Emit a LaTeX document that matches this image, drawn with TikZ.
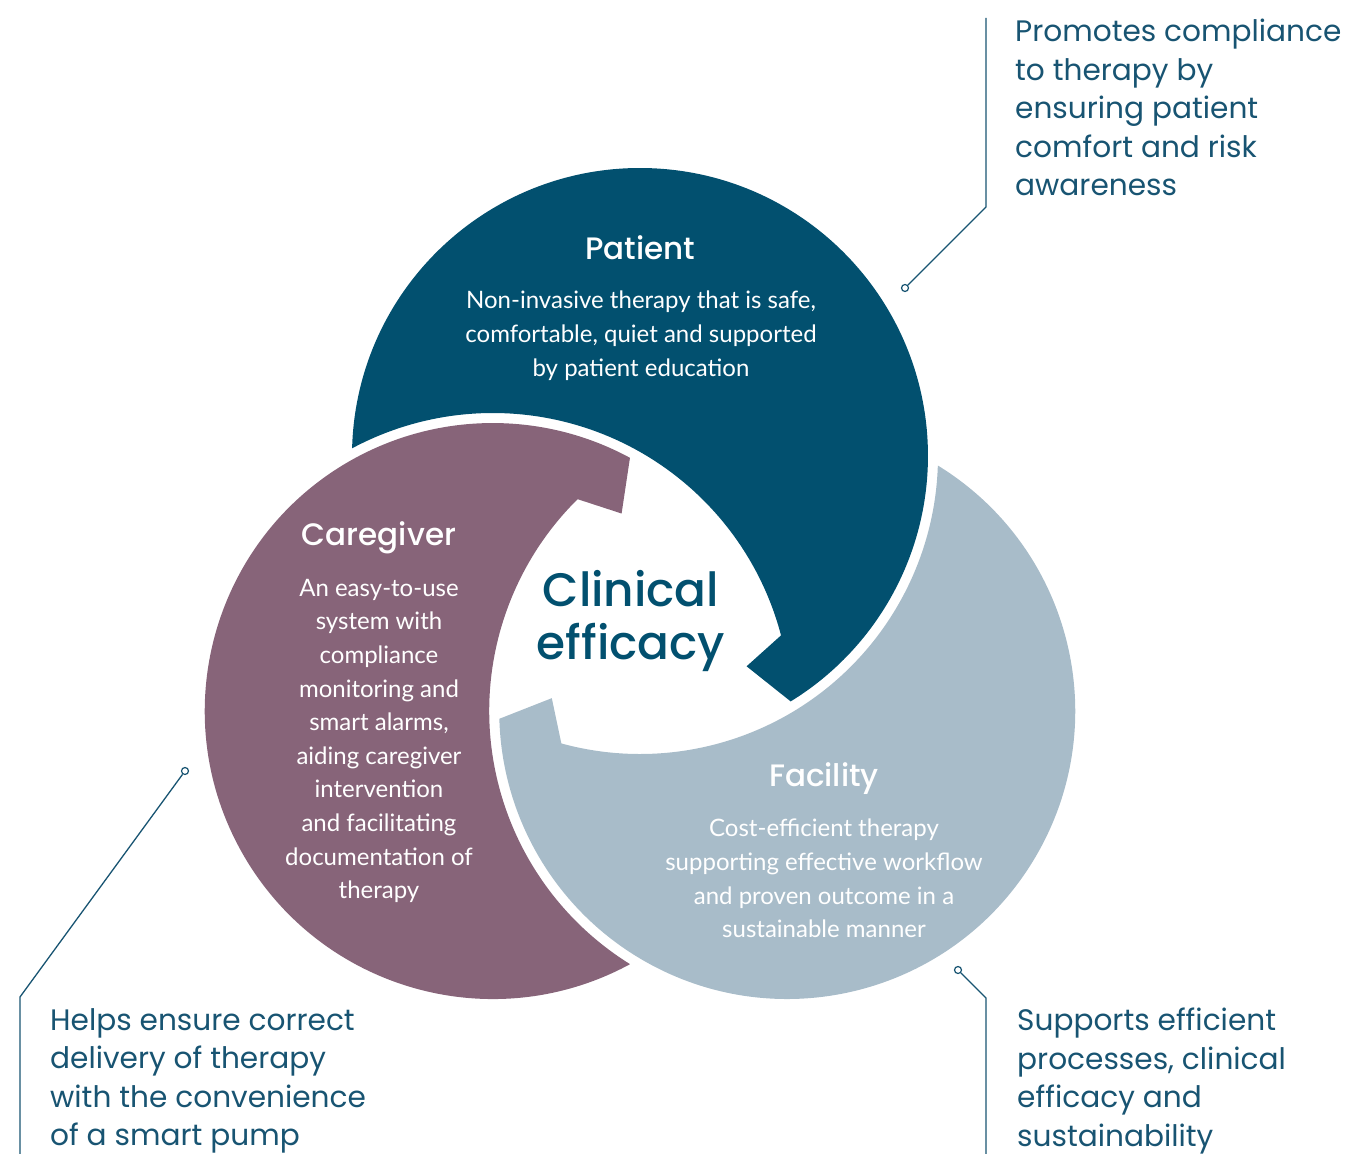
\documentclass[tikz,border=0pt]{standalone}
\usepackage{fontspec}
\setmainfont{Lato}
\newfontfamily\headfont{Poppins}[UprightFont=* Medium]
\newfontfamily\notefont{Poppins}
\usepackage{tikz}
\usetikzlibrary{positioning, calc}
\definecolor{cP}{RGB}{2, 80, 111}
\definecolor{cC}{RGB}{135, 100, 121}
\definecolor{cF}{RGB}{168, 188, 201}
\definecolor{cN}{RGB}{24, 84, 114}
\tikzstyle{Head}=[text=white,
		inner sep=0pt,
		anchor=base,
		font=\headfont\fontsize{31}{36}\selectfont]
\tikzstyle{Body}=[text=white,
		inner sep=0pt,
		anchor=north,
		align=center,
		font=\fontsize{24}{33.6}\selectfont]
\tikzstyle{Note}=[text=cN,
		inner sep=0pt,
		anchor=north west,
		align=left,
		font=\notefont\fontsize{29.6}{38.5}\selectfont]
\tikzstyle{callout}=[draw=cN, line width=1.3pt]
\tikzstyle{ring}=[circle,
		draw=cN,
		fill=white,
		line width=1.2pt,
		minimum size=7pt,
		inner sep=0pt]
% one petal, drawn for the patient and turned for the others
\newcommand{\petalpath}{(-287.89,177.79) arc[start angle=178.45, end angle=-58.45, radius=288]
  -- (106.6,-40.3) -- (141.03,-9.38) arc[start angle=14.7, end angle=118.16, radius=298] -- cycle}

\begin{document}
\begin{tikzpicture}[x=1pt,y=1pt]
  \useasboundingbox (-640,-528) rectangle (707,626);

  % petals
  \fill[cP] \petalpath;
  \fill[cC,rotate=120] \petalpath;
  \fill[cF,rotate=240] \petalpath;

  \node [Head] (patient) at (0,366) {Patient};
  \node [Body] (ptext) at (1,335) {Non-invasive therapy that is safe,\\comfortable, quiet and supported\\by patient education};

  \node [Head] (caregiver) at (-261,80) {Caregiver};
  \node [Body] (ctext) at (-261,47) {An easy-to-use\\system with\\compliance\\monitoring and\\smart alarms,\\aiding caregiver\\intervention\\and facilitating\\documentation of\\therapy};

  \node [Head] (facility) at (184,-160) {Facility};
  \node [Body] (ftext) at (184,-193) {Cost-efficient therapy\\supporting effective workflow\\and proven outcome in a\\sustainable manner};

  \node [text=cP,inner sep=0pt,anchor=north,align=center,font=\headfont\fontsize{47}{53}\selectfont] (core) at (-9,56) {Clinical\\efficacy};

  % side notes
  \node [Note] (pnote) at (375,607) {Promotes compliance\\to therapy by\\ensuring patient\\comfort and risk\\awareness};
  \node [Note] (cnote) at (-590,-382) {Helps ensure correct\\delivery of therapy\\with the convenience\\of a smart pump};
  \node [Note] (fnote) at (377,-382) {Supports efficient\\processes, clinical\\efficacy and\\sustainability};

  % callout lines
  \node [ring] (pring) at (265,338) {};
  \node [ring] (cring) at (-455,-145) {};
  \node [ring] (fring) at (318,-344) {};
  \coordinate (ptop) at (346,608);
  \coordinate (pbend) at (346,419);
  \coordinate (ctop) at (-620,-528);
  \coordinate (cbend) at (-620,-371);
  \coordinate (ftop) at (346,-528);
  \coordinate (fbend) at (346,-372);
  \draw [callout] (ptop) -- (pbend) -- (pring);
  \draw [callout] (ctop) -- (cbend) -- (cring);
  \draw [callout] (ftop) -- (fbend) -- (fring);

\end{tikzpicture}
\end{document}
